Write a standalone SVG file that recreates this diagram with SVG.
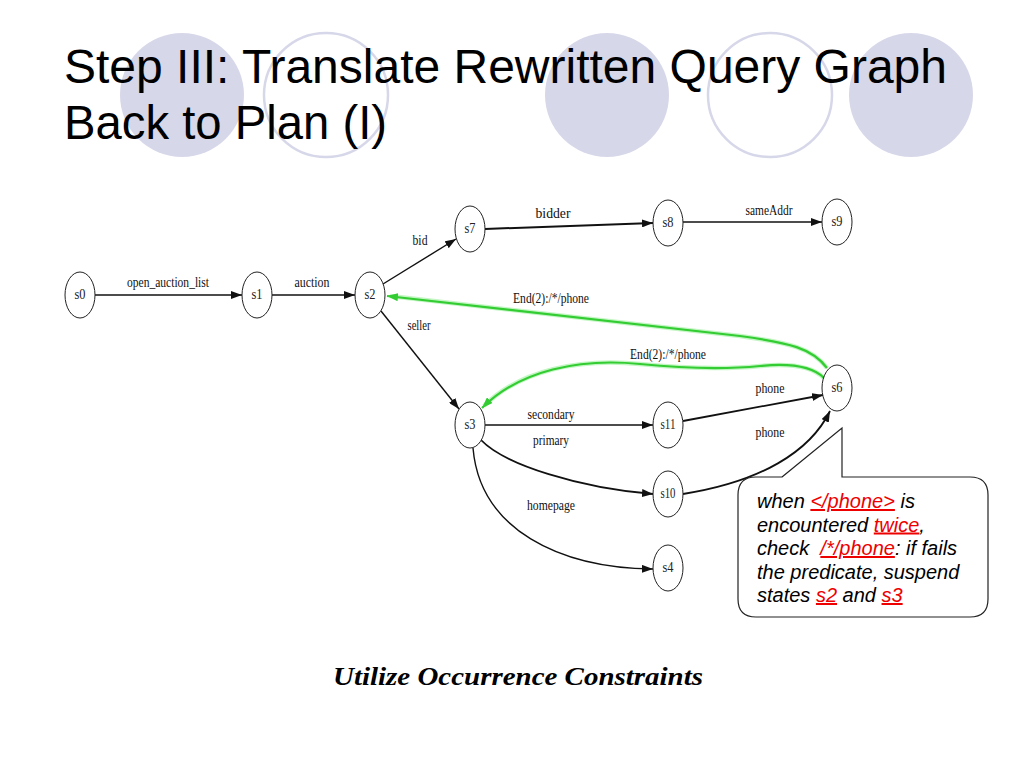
<svg xmlns="http://www.w3.org/2000/svg" width="1024" height="768" viewBox="0 0 1024 768">
<style>
.bgf{fill:#d7d7ea;stroke:none}
.bgo{fill:none;stroke:#d7d7ea;stroke-width:2.5}
.title{font-family:"Liberation Sans",Arial,sans-serif;font-size:48px;fill:#000}
.node ellipse{fill:#fff;stroke:#222;stroke-width:1}
.node text{font-family:"Liberation Serif","Times New Roman",serif;font-size:14px;fill:#222;text-anchor:middle}
.e{fill:none;stroke:#111;stroke-width:1.4;marker-end:url(#ah)}
.g{fill:none;stroke:#3c3;stroke-width:2.2;marker-end:url(#ahg)}
.gl{fill:none;stroke:#8e8;stroke-width:4.5;opacity:0.5}
.lbl{font-family:"Liberation Serif","Times New Roman",serif;font-size:15px;fill:#111;text-anchor:middle}
.co{font-family:"Liberation Sans",Arial,sans-serif;font-size:20px;font-style:italic;fill:#000}
.red{fill:#e00;text-decoration:underline}
.cap{font-family:"Liberation Serif","Times New Roman",serif;font-size:26px;font-weight:bold;font-style:italic;fill:#000}
</style>
<defs>
<marker id="ah" markerUnits="userSpaceOnUse" markerWidth="11" markerHeight="8" refX="11" refY="4" orient="auto"><path d="M0,0 L11,4 L0,8 z" fill="#111"/></marker>
<marker id="ahg" markerUnits="userSpaceOnUse" markerWidth="11" markerHeight="8" refX="11" refY="4" orient="auto"><path d="M0,0 L11,4 L0,8 z" fill="#3c3"/></marker>
</defs>
<rect width="1024" height="768" fill="#fff"/>
<g id="background">
<circle class="bgf" cx="182" cy="95" r="62"/>
<circle class="bgo" cx="326" cy="95" r="62"/>
<circle class="bgf" cx="607" cy="95" r="62"/>
<circle class="bgo" cx="770" cy="95" r="62"/>
<circle class="bgf" cx="911" cy="95" r="62"/>
</g>
<g id="title">
<text class="title" x="64" y="83" textLength="883" lengthAdjust="spacingAndGlyphs">Step III: Translate Rewritten Query Graph</text>
<text class="title" x="64" y="139" textLength="323" lengthAdjust="spacingAndGlyphs">Back to Plan (I)</text>
</g>
<g id="connectors">
<path class="e" d="M95,295 L242,295"/>
<path class="e" d="M272,295 L355,295"/>
<path class="e" d="M383,284 L456,239"/>
<path class="e" style="stroke-width:2" d="M485,229 L653,223"/>
<path class="e" d="M683,222 L822,222"/>
<path class="e" d="M381,311 L459,409"/>
<path class="e" d="M485,425 L653,425"/>
<path class="e" style="stroke-width:1.8" d="M481,440 C505,465 580,488 653,494"/>
<path class="e" d="M473,448 C480,530 560,568 653,569"/>
<path class="e" style="stroke-width:1.8" d="M683,421 L823,395"/>
<path class="e" style="stroke-width:1.8" d="M683,494 C760,482 810,452 830,411"/>
<path class="gl" d="M827,368 C812,348 790,343 740,336 L390,296"/>
<path class="g" d="M827,368 C812,348 790,343 740,336 L387,296"/>
<path class="gl" d="M824,378 C812,366 790,363 760,366 C720,370 680,368 640,364 C580,358 520,370 484,406"/>
<path class="g" d="M824,378 C812,366 790,363 760,366 C720,370 680,368 640,364 C580,358 520,370 482,408"/>
<text class="lbl" x="168" y="287" textLength="82" lengthAdjust="spacingAndGlyphs">open_auction_list</text>
<text class="lbl" x="312" y="287" textLength="35" lengthAdjust="spacingAndGlyphs">auction</text>
<text class="lbl" x="420" y="245" textLength="15" lengthAdjust="spacingAndGlyphs">bid</text>
<text class="lbl" x="553" y="218" textLength="35" lengthAdjust="spacingAndGlyphs">bidder</text>
<text class="lbl" x="769" y="215" textLength="47" lengthAdjust="spacingAndGlyphs">sameAddr</text>
<text class="lbl" x="551" y="303" textLength="76" lengthAdjust="spacingAndGlyphs">End(2):/*/phone</text>
<text class="lbl" x="419" y="330" textLength="23" lengthAdjust="spacingAndGlyphs">seller</text>
<text class="lbl" x="668" y="359" textLength="76" lengthAdjust="spacingAndGlyphs">End(2):/*/phone</text>
<text class="lbl" x="770" y="393" textLength="29" lengthAdjust="spacingAndGlyphs">phone</text>
<text class="lbl" x="551" y="419" textLength="47" lengthAdjust="spacingAndGlyphs">secondary</text>
<text class="lbl" x="551" y="445" textLength="36" lengthAdjust="spacingAndGlyphs">primary</text>
<text class="lbl" x="770" y="437" textLength="29" lengthAdjust="spacingAndGlyphs">phone</text>
<text class="lbl" x="551" y="510" textLength="48" lengthAdjust="spacingAndGlyphs">homepage</text>
</g>
<g id="s0" class="node"><ellipse cx="80" cy="295" rx="15" ry="23"/><text x="80" y="299" textLength="11" lengthAdjust="spacingAndGlyphs">s0</text></g>
<g id="s1" class="node"><ellipse cx="257" cy="295" rx="15" ry="23"/><text x="257" y="299" textLength="11" lengthAdjust="spacingAndGlyphs">s1</text></g>
<g id="s2" class="node"><ellipse cx="370" cy="295" rx="15" ry="23"/><text x="370" y="299" textLength="11" lengthAdjust="spacingAndGlyphs">s2</text></g>
<g id="s7" class="node"><ellipse cx="470" cy="229" rx="15" ry="23"/><text x="470" y="233" textLength="11" lengthAdjust="spacingAndGlyphs">s7</text></g>
<g id="s8" class="node"><ellipse cx="668" cy="223" rx="15" ry="23"/><text x="668" y="227" textLength="11" lengthAdjust="spacingAndGlyphs">s8</text></g>
<g id="s9" class="node"><ellipse cx="837" cy="222" rx="15" ry="23"/><text x="837" y="226" textLength="11" lengthAdjust="spacingAndGlyphs">s9</text></g>
<g id="s6" class="node"><ellipse cx="837" cy="388" rx="15" ry="23"/><text x="837" y="392" textLength="11" lengthAdjust="spacingAndGlyphs">s6</text></g>
<g id="s3" class="node"><ellipse cx="470" cy="425" rx="15" ry="23"/><text x="470" y="429" textLength="11" lengthAdjust="spacingAndGlyphs">s3</text></g>
<g id="s11" class="node"><ellipse cx="668" cy="425" rx="15" ry="23"/><text x="668" y="429" textLength="15" lengthAdjust="spacingAndGlyphs">s11</text></g>
<g id="s10" class="node"><ellipse cx="668" cy="494" rx="15" ry="23"/><text x="668" y="498" textLength="15" lengthAdjust="spacingAndGlyphs">s10</text></g>
<g id="s4" class="node"><ellipse cx="668" cy="568" rx="15" ry="23"/><text x="668" y="572" textLength="11" lengthAdjust="spacingAndGlyphs">s4</text></g>
<g id="callout">
<path d="M782,477 L842,428 L842,477 L970,477 Q988,477 988,495 L988,599 Q988,617 970,617 L756,617 Q738,617 738,599 L738,495 Q738,477 756,477 Z" fill="#fff" stroke="#222" stroke-width="1.2"/>
<text class="co" x="757" y="508">when <tspan class="red">&lt;/phone&gt;</tspan> is</text>
<text class="co" x="757" y="531.5">encountered <tspan class="red">twice</tspan>,</text>
<text class="co" x="757" y="555" xml:space="preserve">check  <tspan class="red">/*/phone</tspan>: if fails</text>
<text class="co" x="757" y="578.5">the predicate, suspend</text>
<text class="co" x="757" y="602">states <tspan class="red">s2</tspan> and <tspan class="red">s3</tspan></text>
</g>
<g id="caption">
<text class="cap" x="518" y="685" text-anchor="middle" textLength="370" lengthAdjust="spacingAndGlyphs">Utilize Occurrence Constraints</text>
</g>
</svg>
